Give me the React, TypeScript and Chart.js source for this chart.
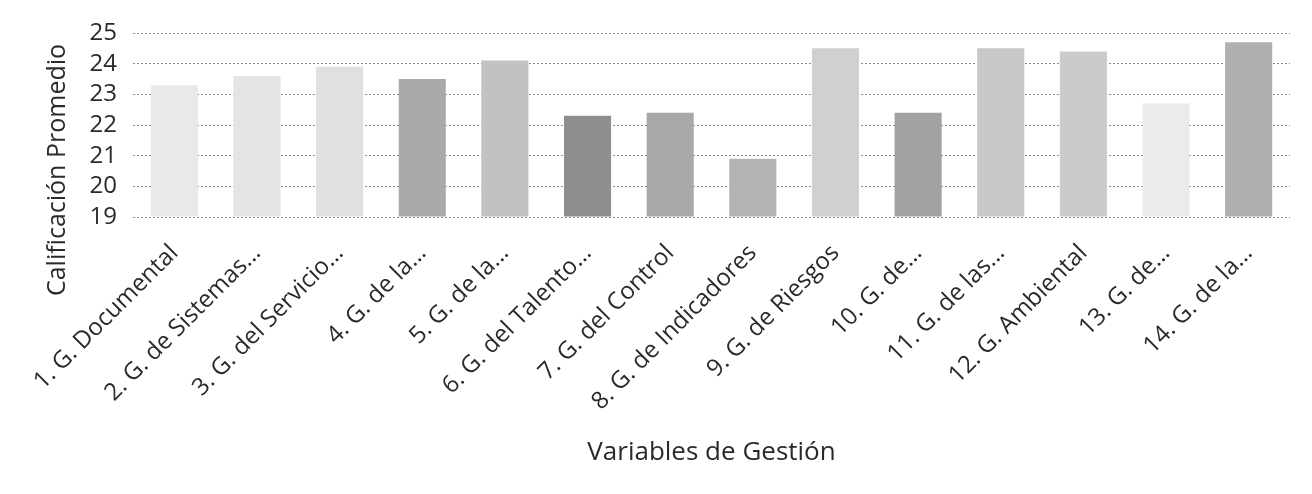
import React, { useEffect, useRef } from "react";
import { Chart, registerables } from "chart.js";

Chart.register(...registerables);

const categories = [
  "1. G. Documental",
  "2. G. de Sistemas…",
  "3. G. del Servicio…",
  "4. G. de la…",
  "5. G. de la…",
  "6. G. del Talento…",
  "7. G. del Control",
  "8. G. de Indicadores",
  "9. G. de Riesgos",
  "10. G. de…",
  "11. G. de las…",
  "12. G. Ambiental",
  "13. G. de…",
  "14. G. de la…",
];

const values = [23.3, 23.6, 23.9, 23.5, 24.1, 22.3, 22.4, 20.9, 24.5, 22.4, 24.5, 24.4, 22.7, 24.7];

const barColors = [
  "#e9e9e9", "#e4e4e4", "#e0e0e0", "#a9a9a9", "#c2c2c2", "#8e8e8e", "#a8a8a8",
  "#b4b4b4", "#d0d0d0", "#a2a2a2", "#c8c8c8", "#cbcbcb", "#ebebeb", "#b0b0b0",
];

const yTicks = [19, 20, 21, 22, 23, 24, 25];
const yTitle = "Calificación Promedio";
const xTitle = "Variables de Gestión";

const FONT = "'Open Sans', 'DejaVu Sans', sans-serif";
const TEXT = "#2a2a2a";

const yTitlePlugin = {
  id: "yTitleOffset",
  afterDraw(chart: any) {
    const ctx = chart.ctx;
    ctx.save();
    ctx.translate(58, 170);
    ctx.rotate(-Math.PI / 2);
    ctx.font = `25px ${FONT}`;
    ctx.fillStyle = TEXT;
    ctx.textAlign = "center";
    ctx.textBaseline = "middle";
    ctx.fillText(yTitle, 0, 0);
    ctx.restore();
  },
};

export default function App() {
  const ref = useRef<HTMLCanvasElement | null>(null);

  useEffect(() => {
    document.body.style.margin = "0";
    const canvas = ref.current;
    if (!canvas) return;
    const chart = new Chart(canvas, {
      type: "bar",
      data: {
        labels: categories,
        datasets: [
          {
            data: values,
            backgroundColor: barColors,
            borderWidth: 0,
            barPercentage: 0.57,
            categoryPercentage: 1,
            base: 19,
          },
        ],
      },
      plugins: [yTitlePlugin],
      options: {
        animation: false,
        responsive: false,
        devicePixelRatio: 1,
        layout: { padding: { left: 0, right: 22, top: 33, bottom: 26 } },
        plugins: { legend: { display: false }, tooltip: { enabled: false } },
        scales: {
          x: {
            grid: { display: false },
            border: { display: false },
            ticks: {
              color: TEXT,
              font: { family: FONT, size: 24 },
              minRotation: 45,
              maxRotation: 45,
              autoSkip: false,
              padding: 14,
            },
            title: {
              display: true,
              text: xTitle,
              color: TEXT,
              font: { family: FONT, size: 26 },
              padding: 0,
            },
            afterFit: (scale: any) => {
              scale.height = 251;
            },
          },
          y: {
            min: 19,
            max: 25,
            afterBuildTicks: (scale: any) => {
              scale.ticks = yTicks.map((v) => ({ value: v }));
            },
            grid: {
              color: "#8a8a8a",
              lineWidth: 1,
              drawTicks: false,
            },
            border: { display: false, dash: [2, 2] },
            ticks: {
              color: TEXT,
              font: { family: FONT, size: 24 },
              padding: 16,
              autoSkip: false,
            },
            title: { display: false },
            afterFit: (scale: any) => {
              scale.width = 133;
            },
          },
        },
      },
    });
    return () => chart.destroy();
  }, []);

  return <canvas ref={ref} width={1312} height={494} style={{ display: "block" }} />;
}
